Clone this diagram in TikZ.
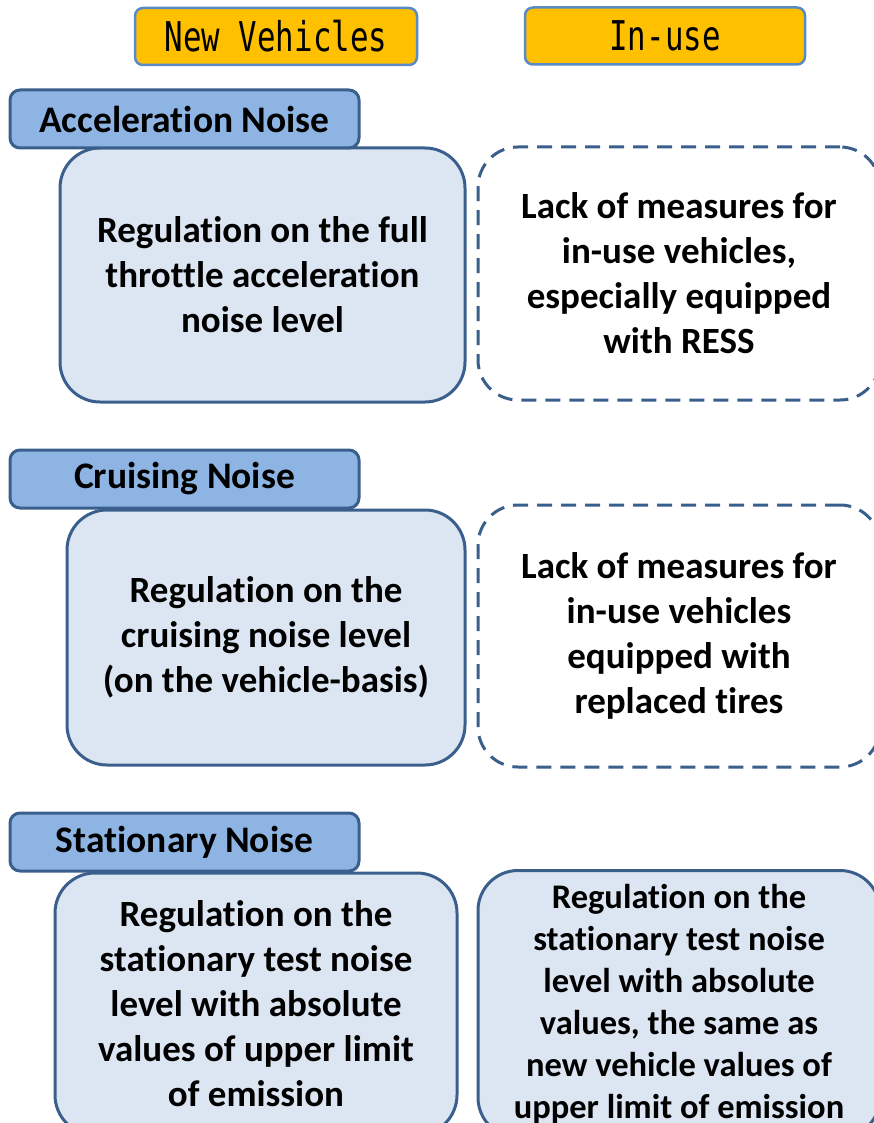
\documentclass[tikz,border=0pt]{standalone}
\usepackage{fontspec}
\setmainfont{Carlito}[Ligatures=NoCommon]
\newfontfamily\gothic{DejaVu Sans Mono}
\usepackage{tikz}
\usetikzlibrary{
  	positioning,
  	calc
  }
\definecolor{hdrfill}{HTML}{FFC000}
\definecolor{hdrline}{HTML}{5B8BC6}
\definecolor{tabfill}{HTML}{8DB4E2}
\definecolor{boxline}{HTML}{3B5F8C}
\definecolor{boxfill}{HTML}{DCE6F2}
\tikzstyle{hdr}=[draw=hdrline,fill=hdrfill,line width=2.5pt,rounded corners=8pt,minimum width=282pt,minimum height=57pt,inner sep=0pt,font=\gothic\fontsize{41}{45}\selectfont]
\tikzstyle{noisetab}=[draw=boxline,fill=tabfill,line width=3pt,rounded corners=10pt,minimum width=349pt,minimum height=58pt,inner sep=0pt,font=\bfseries\fontsize{37.5}{45}\selectfont]
\tikzstyle{regbox}=[draw=boxline,fill=boxfill,line width=3pt,rounded corners=40pt,inner sep=0pt,align=center,font=\bfseries\fontsize{37}{45}\selectfont]
\tikzstyle{lackbox}=[regbox,fill=white,dash pattern=on 15pt off 9pt]

\begin{document}
\begin{tikzpicture}[x=1pt,y=-1pt]
\useasboundingbox (0,0) rectangle (874,1123);
\clip (0,0) rectangle (874,1123);
% column heads
\node[hdr] (new) at (276,36.5) {\scalebox{0.75}[1]{New Vehicles}};
\node[hdr,minimum width=280pt] (use) at (665,36) {\scalebox{0.75}[1]{In-use}};
% acceleration
\node[regbox,minimum width=405pt,minimum height=254pt] (accnew) at (262.5,275)
   {Regulation on the full\\throttle acceleration\\noise level};
\node[lackbox,minimum width=402pt,minimum height=253pt] (accuse) at (679,273.5)
   {Lack of measures for\\in-use vehicles,\\especially equipped\\with RESS};
\node[noisetab] (acc) at (184.5,119) {Acceleration Noise};
% cruising
\node[regbox,minimum width=398pt,minimum height=255pt] (crunew) at (266,637.5)
   {Regulation on the\\cruising noise level\\(on the vehicle-basis)};
\node[lackbox,minimum width=402pt,minimum height=262pt] (cruuse) at (679,636)
   {Lack of measures for\\in-use vehicles\\equipped with\\replaced tires};
\node[noisetab] (cru) at (184.5,479) {Cruising Noise};
% stationary
\node[regbox,minimum width=402pt,minimum height=262pt] (stanew) at (256,1004)
   {Regulation on the\\stationary test noise\\level with absolute\\values of upper limit\\of emission};
\node[regbox,font=\bfseries\fontsize{34.5}{42}\selectfont,minimum width=402pt,minimum height=267pt] (stause) at (679,1004)
   {Regulation on the\\stationary test noise\\level with absolute\\values, the same as\\new vehicle values of\\upper limit of emission};
\node[noisetab] (sta) at (184.5,842) {Stationary Noise};
\end{tikzpicture}
\end{document}
